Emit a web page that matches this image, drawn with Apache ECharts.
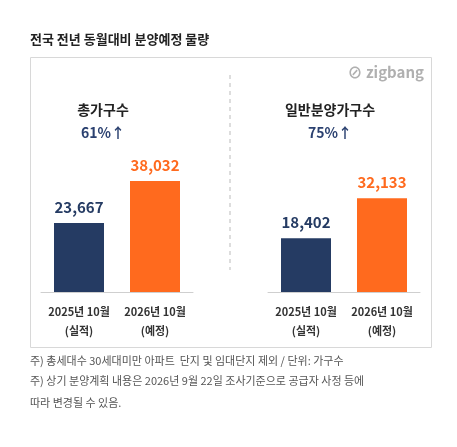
<!DOCTYPE html>
<html><head><meta charset="utf-8">
<script src="https://cdn.jsdelivr.net/npm/echarts@6/dist/echarts.min.js"></script>
<style>html,body{margin:0;padding:0;background:#fff}#c{width:457px;height:447px}</style>
</head><body><div id="c"></div>
<script>
const categories = ['2025년 10월\n(실적)', '2026년 10월\n(예정)'];
const totalValues = [23667, 38032];
const generalValues = [18402, 32133];
const groupTitles = ['총가구수', '일반분양가구수'];
const groupChanges = ['61%↑', '75%↑'];
const colors = ['#253b63', '#ff6a1e'];
const F = '"Noto Sans CJK KR", sans-serif';
const chart = echarts.init(document.getElementById('c'));
function ser(i, vals){
  return {type:'bar', xAxisIndex:i, yAxisIndex:i, barWidth:50,
    data: vals.map((v,k)=>({value:v, itemStyle:{color:colors[k]},
      label:{color:colors[k]}})),
    label:{show:true, position:'top', distance:8, fontFamily:F, fontSize:15, fontWeight:'bold',
      formatter:p=>p.value.toLocaleString('en-US')}};
}
function xa(i){return {type:'category', gridIndex:i, data:categories,
  axisLine:{lineStyle:{color:'#cfcfcf'}}, axisTick:{show:false},
  axisLabel:{interval:0, hideOverlap:false, fontFamily:F, fontSize:11, color:'#333', fontWeight:'bold', lineHeight:19, margin:10}};}
function ya(i){return {type:'value', gridIndex:i, min:0, max:50000, show:false};}
chart.setOption({
  animation:false,
  grid:[{left:41, width:152, top:146, bottom:155},{left:268, width:152, top:146, bottom:155}],
  xAxis:[xa(0), xa(1)], yAxis:[ya(0), ya(1)],
  series:[ser(0,totalValues), ser(1,generalValues)],
  graphic:[
    {type:'text', left:30, top:33, style:{text:'전국 전년 동월대비 분양예정 물량', font:'bold 13px '+F, fill:'#222'}},
    {type:'rect', shape:{x:30.5,y:57.5,width:401,height:290}, style:{fill:'none', stroke:'#d8d8d8', lineWidth:1}},
    {type:'line', shape:{x1:230,y1:75,x2:230,y2:270}, style:{stroke:'#bbb', lineDash:[4,4], lineWidth:1}},
    {type:'text', x:424, y:72, style:{text:'⊘ zigbang', font:'bold 15px '+F, fill:'#b0b0b0', align:'right', verticalAlign:'middle'}},
    {type:'text', x:103, y:110, style:{text:groupTitles[0], font:'bold 14px '+F, fill:'#222', align:'center', verticalAlign:'middle'}},
    {type:'text', x:103, y:133, style:{text:groupChanges[0], font:'bold 14px '+F, fill:'#2b4170', align:'center', verticalAlign:'middle'}},
    {type:'text', x:330, y:110, style:{text:groupTitles[1], font:'bold 14px '+F, fill:'#222', align:'center', verticalAlign:'middle'}},
    {type:'text', x:330, y:133, style:{text:groupChanges[1], font:'bold 14px '+F, fill:'#2b4170', align:'center', verticalAlign:'middle'}},
    {type:'text', left:30, top:355, style:{text:'주) 총세대수 30세대미만 아파트  단지 및 임대단지 제외 / 단위: 가구수', font:'11px '+F, fill:'#555'}},
    {type:'text', left:30, top:375, style:{text:'주) 상기 분양계획 내용은 2026년 9월 22일 조사기준으로 공급자 사정 등에\n\n따라 변경될 수 있음.', font:'11px '+F, fill:'#555', lineHeight:11}}
  ]
});
</script></body></html>
